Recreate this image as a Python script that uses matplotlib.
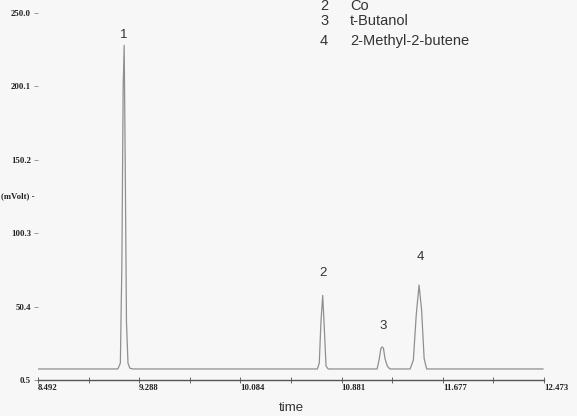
import matplotlib
matplotlib.use("Agg")
import matplotlib.pyplot as plt

# Chromatogram trace (time, mVolt)
time = [8.492, 9.120, 9.140, 9.152, 9.162, 9.170, 9.178, 9.188, 9.200, 9.215, 9.240,
        10.690, 10.705, 10.718, 10.732, 10.745, 10.758, 10.775,
        11.160, 11.175, 11.190, 11.200, 11.210, 11.222, 11.240, 11.260,
        11.420, 11.445, 11.468, 11.490, 11.510, 11.530, 11.550, 12.465]
signal = [8.0, 8.0, 12.0, 80.0, 200.0, 228.0, 150.0, 40.0, 12.0, 8.5, 8.0,
          8.0, 12.0, 40.0, 58.0, 35.0, 10.0, 8.0,
          8.0, 14.0, 22.0, 23.0, 22.0, 15.0, 10.0, 8.0,
          8.0, 14.0, 45.0, 65.0, 48.0, 15.0, 8.0, 8.0]

peak_labels = ["1", "2", "3", "4"]
peak_label_time = [9.168, 10.736, 11.210, 11.504]
peak_label_value = [231.0, 69.0, 33.0, 80.0]

x_ticks = [8.492, 9.288, 10.084, 10.881, 11.677, 12.473]
x_minor = [8.890, 9.686, 10.482, 11.279, 12.075]
y_ticks = [0.5, 50.4, 100.3, 150.2, 200.1, 250.0]

legend_nums = ["2", "3", "4"]
legend_names = ["Co", "t-Butanol", "2-Methyl-2-butene"]

bg = "#f7f7f7"
fig = plt.figure(figsize=(5.77, 4.16), dpi=100, facecolor=bg)
ax = fig.add_axes([38/577, 1-380/416, 506/577, 367/416])
ax.set_facecolor(bg)
ax.plot(time, signal, color="#8f8f8f", lw=0.9)
ax.set_xlim(8.492, 12.473)
ax.set_ylim(0.5, 250.0)

for s in ["top", "right", "left"]:
    ax.spines[s].set_visible(False)
ax.spines["bottom"].set_color("#555555")
ax.spines["bottom"].set_linewidth(1.0)

serif = dict(family="Liberation Serif", weight="bold", size=6.3, color="#222222")
ax.set_xticks(x_ticks)
ax.set_xticks(x_minor, minor=True)
ax.set_xticklabels([f"{v:.3f}" for v in x_ticks], fontdict=serif, ha="left")
ax.tick_params(axis="x", which="both", direction="inout", length=4, width=0.7,
               color="#666666", pad=1)
ax.set_yticks(y_ticks)
ax.set_yticklabels([f"{v:.1f}" for v in y_ticks], fontdict=serif)
ax.tick_params(axis="y", which="major", direction="out", length=3, width=0.6,
               color="#888888", pad=2)
ax.tick_params(axis="y", which="minor", length=0)
ax.text(-0.006, (380 - 196) / 367, "(mVolt) -", transform=ax.transAxes,
        ha="right", va="center", **serif)

for lab, t, v in zip(peak_labels, peak_label_time, peak_label_value):
    ax.text(t, v, lab, ha="center", va="bottom", fontsize=9.5,
            family="Liberation Sans", color="#333333")

ax.set_xlabel("time", fontsize=9.5, family="Liberation Sans", color="#333333",
              labelpad=7)

legend_y_px = [6, 21, 41]
for n, name, ypx in zip(legend_nums, legend_names, legend_y_px):
    y = 1 - ypx / 416
    fig.text(320/577, y, n, ha="left", va="center", fontsize=10.5,
             family="Liberation Sans", color="#333333")
    fig.text(350/577, y, name, ha="left", va="center", fontsize=10.5,
             family="Liberation Sans", color="#333333")

fig.savefig("out.png", dpi=100, facecolor=bg)
